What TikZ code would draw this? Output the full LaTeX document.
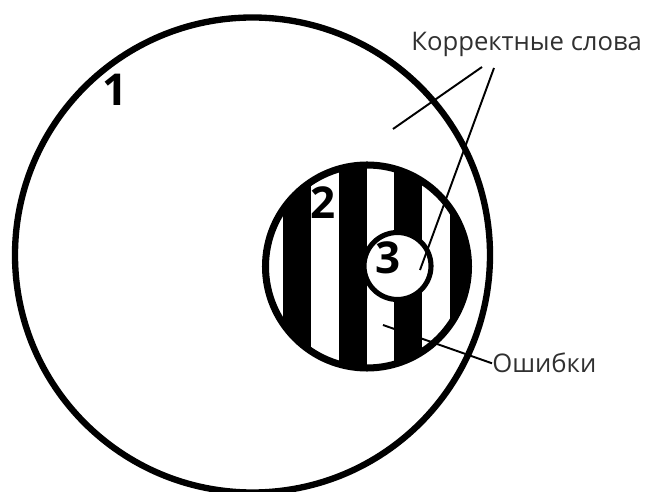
\documentclass[tikz,border=0pt]{standalone}
\usepackage{fontspec}
\setmainfont{Open Sans}
\usepackage{tikz}
\usetikzlibrary{calc}
\definecolor{SetInk}{HTML}{000000}
\definecolor{SetText}{HTML}{303030}
\tikzset{
  setnum/.style={font=\fontsize{25}{30}\selectfont\bfseries,text=SetInk,inner sep=0pt},
  setlabel/.style={font=\fontsize{14.6}{17}\selectfont,text=SetText,inner sep=0pt},
  leader/.style={SetInk,line width=1.1pt}
}

\begin{document}
\begin{tikzpicture}
  \useasboundingbox (0,0) rectangle (12.98,9.84);
  % outer set
  \draw[SetInk,line width=3.6pt] (5.05,4.74) circle (4.75);
  % striped set
  \begin{scope}
    \clip (7.34,4.51) circle (2.03);
    \foreach \x in {5.66,6.78,7.88,9.00}
      \fill[SetInk] (\x,2.2) rectangle ++(0.56,4.6);
  \end{scope}
  \draw[SetInk,line width=4pt] (7.34,4.51) circle (2.03);
  % inner set
  \draw[SetInk,fill=white,line width=2.9pt] (7.95,4.52) circle (0.67);
  \node[setnum] (n1) at (2.30,8.04) {1};
  \node[setnum] (n2) at (6.46,5.78) {2};
  \node[setnum] (n3) at (7.77,4.68) {3};
  \node[setlabel,anchor=base west] (korr) at (8.22,8.82) {Корректные слова};
  \node[setlabel,anchor=base west] (osh) at (9.84,2.38) {Ошибки};
  \coordinate (k1) at (9.64,8.50);
  \coordinate (k2) at (9.88,8.48);
  \coordinate (p1) at (7.86,7.26);
  \coordinate (p3) at (8.40,4.44);
  \coordinate (p2) at (7.66,3.34);
  \draw[leader] (k1)--(p1);
  \draw[leader] (k2)--(p3);
  \draw[leader] (osh.west)--(p2);
\end{tikzpicture}
\end{document}
